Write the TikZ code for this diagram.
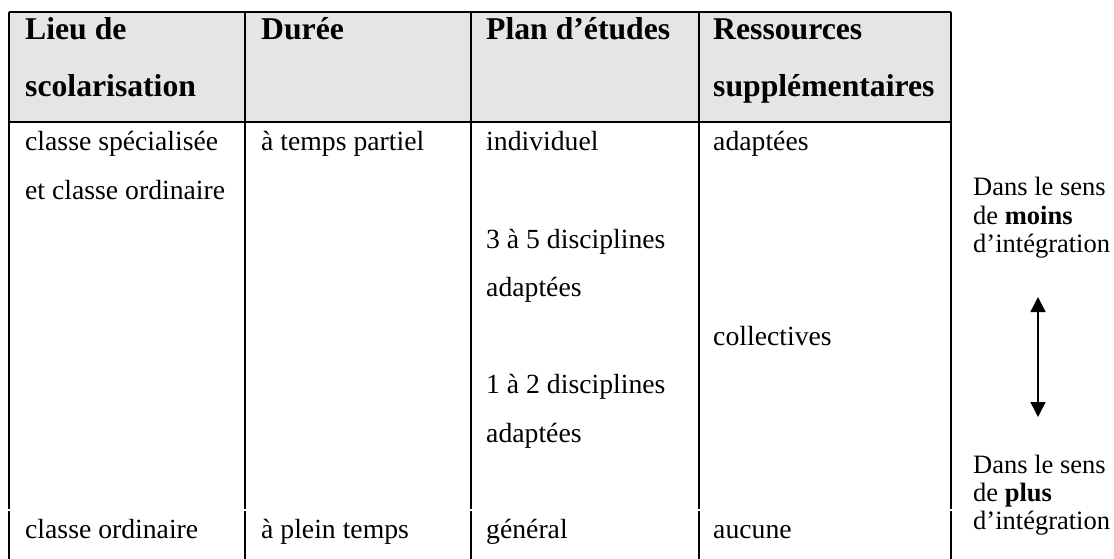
\documentclass[tikz,border=0pt]{standalone}
\usepackage{fontspec}
\setmainfont{Liberation Serif}
\usetikzlibrary{arrows.meta}
\begin{document}
\begin{tikzpicture}[x=1pt,y=-1pt,
  rule/.style={line width=1.2pt,black},
  head/.style={anchor=base west,inner sep=0pt,font=\fontsize{31.7}{36}\selectfont\bfseries},
  cell/.style={anchor=base west,inner sep=0pt,font=\fontsize{27.7}{32}\selectfont},
  side/.style={anchor=base west,inner sep=0pt,font=\fontsize{26.5}{28}\selectfont},
  dbl/.style={line width=1.5pt,{Triangle[width=15pt,length=15pt]}-{Triangle[width=15pt,length=15pt]}}]
\useasboundingbox (0,0) rectangle (1114,559);
% header background
\fill[gray!20] (9,12) rectangle (951,122);
% horizontal rules
\draw[rule] (9,12) -- (951,12);
\draw[rule] (9,122) -- (951,122);
% vertical rules (with small break)
\foreach \x in {9,245,471,699,951}{
  \draw[rule] (\x,12) -- (\x,509);
  \draw[rule] (\x,511) -- (\x,559);
}
% header
\node[head] (h1a) at (25,40) {Lieu de};
\node[head] (h1b) at (25,97) {scolarisation};
\node[head] (h2)  at (261,40) {Durée};
\node[head] (h3)  at (486,40) {Plan d’études};
\node[head] (h4a) at (713,40) {Ressources};
\node[head] (h4b) at (713,97) {supplémentaires};
% body
\node[cell] (c11) at (25,151) {classe spécialisée};
\node[cell] (c12) at (25,199.5) {et classe ordinaire};
\node[cell] (c13) at (25,538) {classe ordinaire};
\node[cell] (c21) at (261,151) {à temps partiel};
\node[cell] (c22) at (261,538) {à plein temps};
\node[cell] (c31) at (486,151) {individuel};
\node[cell] (c32) at (486,248) {3 à 5 disciplines};
\node[cell] (c33) at (486,296.5) {adaptées};
\node[cell] (c34) at (486,393.5) {1 à 2 disciplines};
\node[cell] (c35) at (486,442) {adaptées};
\node[cell] (c36) at (486,538) {général};
\node[cell] (c41) at (713,151) {adaptées};
\node[cell] (c42) at (713,345) {collectives};
\node[cell] (c43) at (713,538) {aucune};
% side notes
\node[side] (s1) at (973,196) {Dans le sens};
\node[side] (s2) at (973,224) {de \textbf{moins}};
\node[side] (s3) at (973,252) {d’intégration};
\node[side] (s4) at (973,473) {Dans le sens};
\node[side] (s5) at (973,501) {de \textbf{plus}};
\node[side] (s6) at (973,529) {d’intégration};
\coordinate (atop) at (1038,297);
\coordinate (abot) at (1038,417);
\draw[dbl] (atop) -- (abot);
\end{tikzpicture}
\end{document}
